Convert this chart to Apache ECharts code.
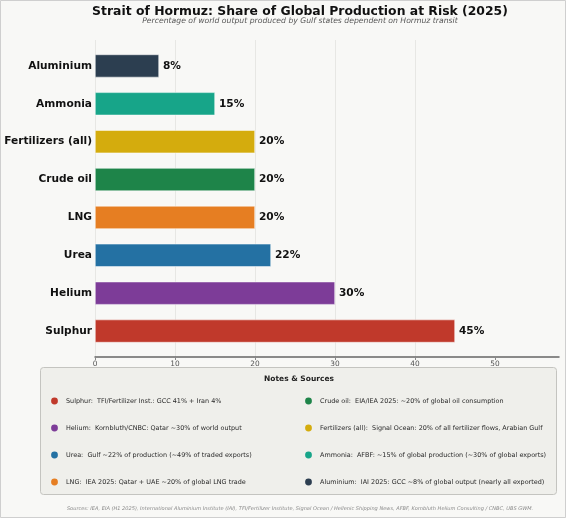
<!DOCTYPE html>
<html>
<head>
<meta charset="utf-8">
<script src="https://cdn.jsdelivr.net/npm/echarts@6/dist/echarts.min.js"></script>
<style>
html,body{margin:0;padding:0;background:#f8f8f6;}
#chart{width:566px;height:518px;}
</style>
</head>
<body>
<div id="chart"></div>
<script>
// ---- data ----
const categories = ["Aluminium", "Ammonia", "Fertilizers (all)", "Crude oil", "LNG", "Urea", "Helium", "Sulphur"];
const shares = [8, 15, 20, 20, 20, 22, 30, 45];
const barColors = ["#2c3e50", "#17a589", "#d4ac0d", "#1e8449", "#e67e22", "#2471a3", "#7d3c98", "#c0392b"];
const xTicks = [0, 10, 20, 30, 40, 50];
const noteNames = ["Sulphur", "Helium", "Urea", "LNG", "Crude oil", "Fertilizers (all)", "Ammonia", "Aluminium"];
const noteTexts = [
  "TFI/Fertilizer Inst.: GCC 41% + Iran 4%",
  "Kornbluth/CNBC: Qatar ~30% of world output",
  "Gulf ~22% of production (~49% of traded exports)",
  "IEA 2025: Qatar + UAE ~20% of global LNG trade",
  "EIA/IEA 2025: ~20% of global oil consumption",
  "Signal Ocean: 20% of all fertilizer flows, Arabian Gulf",
  "AFBF: ~15% of global production (~30% of global exports)",
  "IAI 2025: GCC ~8% of global output (nearly all exported)"
];
const titleText = "Strait of Hormuz: Share of Global Production at Risk (2025)";
const subtitleText = "Percentage of world output produced by Gulf states dependent on Hormuz transit";
const sourcesText = "Sources: IEA, EIA (H1 2025), International Aluminium Institute (IAI), TFI/Fertilizer Institute, Signal Ocean / Hellenic Shipping News, AFBF, Kornbluth Helium Consulting / CNBC, UBS GWM.";

const FONT = "DejaVu Sans";
const chart = echarts.init(document.getElementById('chart'), null, {renderer: 'canvas'});

const colorOf = name => barColors[categories.indexOf(name)];

const graphics = [];
// outer border
graphics.push({type:'rect', shape:{x:0.5,y:0.5,width:565,height:517}, style:{fill:'none', stroke:'#cfcfcf', lineWidth:1}, silent:true, z:-1});
// notes box
graphics.push({type:'rect', shape:{x:40.5,y:367.5,width:516,height:127,r:3}, style:{fill:'#efefeb', stroke:'#c4c4c0', lineWidth:1}, z:0});
graphics.push({type:'text', x:299, y:379, style:{text:'Notes & Sources', font:'bold 7.5px "DejaVu Sans"', fill:'#222', align:'center', verticalAlign:'middle'}, z:2});
noteNames.forEach((n, i) => {
  const col = Math.floor(i / 4), row = i % 4;
  const dx = col === 0 ? 54.5 : 308.5;
  const y = 401 + row * 27;
  graphics.push({type:'circle', shape:{cx:dx, cy:y, r:3.4}, style:{fill:colorOf(n)}, z:2});
  graphics.push({type:'text', x:dx + 11.5, y:y, style:{text:n + ':  ' + noteTexts[i], font:'6.45px "DejaVu Sans"', fill:'#2a2a2a', verticalAlign:'middle'}, z:2});
});
graphics.push({type:'text', x:300, y:509, style:{text:sourcesText, font:'italic 5.05px "DejaVu Sans"', fill:'#888', align:'center', verticalAlign:'middle'}, z:2});

const option = {
  backgroundColor: '#f8f8f6',
  animation: false,
  title: [
    {text: titleText, left: 300, textAlign: 'center', top: 5.5, padding: 0,
     textStyle: {fontFamily: FONT, fontWeight: 'bold', fontSize: 12.4, color: '#111'}},
    {text: subtitleText, left: 300, textAlign: 'center', top: 17.5, padding: 0,
     textStyle: {fontFamily: FONT, fontStyle: 'italic', fontWeight: 'normal', fontSize: 7.7, color: '#555'}}
  ],
  grid: [
    {left: 95, right: 7, top: 40, bottom: 161},
    {left: 95, right: 7, top: 47, bottom: 168}
  ],
  xAxis: [
    {type: 'value', gridIndex: 0, min: 0, max: 58, interval: 10,
     axisLine: {show: true, lineStyle: {color: '#666', width: 1.5}},
     axisTick: {show: true, length: 3, customValues: xTicks, lineStyle: {color: '#888'}},
     axisLabel: {fontFamily: FONT, fontSize: 7.4, color: '#555', margin: 4, customValues: xTicks},
     splitLine: {show: true, showMinLine: true, showMaxLine: false, lineStyle: {color: '#e2e2e0', width: 0.8}}},
    {type: 'value', gridIndex: 1, min: 0, max: 58, show: false}
  ],
  yAxis: [
    {type: 'value', gridIndex: 0, show: false, splitLine: {show: false}},
    {type: 'category', gridIndex: 1, inverse: true, data: categories,
     axisLine: {show: false}, axisTick: {show: false},
     axisLabel: {fontFamily: FONT, fontWeight: 'bold', fontSize: 10.6, color: '#111', margin: 3}}
  ],
  series: [{
    type: 'bar', xAxisIndex: 1, yAxisIndex: 1,
    barWidth: 23,
    data: shares.map((v, i) => ({value: v, itemStyle: {color: barColors[i]}})),
    itemStyle: {borderColor: 'rgba(255,255,255,0.8)', borderWidth: 0.6},
    label: {show: true, position: 'right', distance: 4, formatter: p => p.value + '%',
            fontFamily: FONT, fontWeight: 'bold', fontSize: 10.6, color: '#111'}
  }],
  graphic: graphics
};
chart.setOption(option);
</script>
</body>
</html>
